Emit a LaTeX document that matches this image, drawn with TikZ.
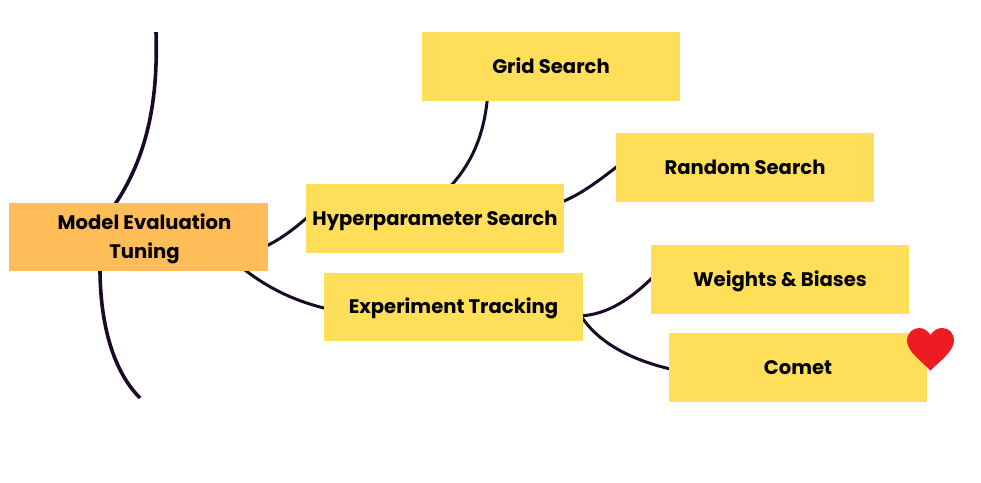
\documentclass[tikz,border=0pt]{standalone}
\usepackage{fontspec}
\setmainfont{Poppins}
\usetikzlibrary{calc,backgrounds}
\definecolor{boxyellow}{HTML}{FFDE59}
\definecolor{boxorange}{HTML}{FFBD59}
\definecolor{linedark}{HTML}{1B0A26}
\definecolor{heartred}{HTML}{ED1C24}
\tikzset{
  basebox/.style={minimum width=258.5pt,minimum height=68.5pt,inner sep=0pt,align=center,
    font=\fontsize{19.6}{29}\selectfont\bfseries,text=black},
  topicbox/.style={basebox,fill=boxyellow,text height=18pt,text depth=4.5pt},
  rootbox/.style={basebox,fill=boxorange},
  branch/.style={draw=linedark,line width=3.6pt},
  thin branch/.style={draw=linedark,line width=3pt},
}
\begin{document}
\begin{tikzpicture}[x=1pt,y=-1pt]
\useasboundingbox (0,0) rectangle (981,482);
\coordinate (upper) at (156,32);
\coordinate (lower) at (140,398);
\node[rootbox] (main) at (138.5,237.2) {\hspace*{12pt}\rule{0pt}{18pt}Model Evaluation\\\hspace*{12pt}Tuning};
\node[topicbox] (hyper) at (435,218.5) {Hyperparameter Search};
\node[topicbox] (track) at (453.5,307) {Experiment Tracking};
\node[topicbox] (grid) at (551,66.5) {Grid Search};
\node[topicbox] (rand) at (745,167.5) {Random Search};
\node[topicbox] (wb) at (780,279.5) {Weights \& Biases};
\node[topicbox] (comet) at (798,367.5) {Comet};
\begin{scope}[on background layer]
\fill[white] (0,0) rectangle (981,482);
\begin{scope}
\clip (0,32) rectangle (981,398);
\draw[branch] (upper) .. controls (158,95) and (150,160) .. ($(main.north west)+(97,14)$);
\draw[branch] ($(main.south west)+(91,-10)$) .. controls (99,320) and (112,370) .. (lower);
\end{scope}
\draw[thin branch] ($(main.east)+(-4,10)$) .. controls (283,238) and (295,228) .. ($(hyper.west)+(4,-3)$);
\draw[thin branch] ($(main.south east)+(-26,-4)$) .. controls (270,290) and (298,302) .. ($(track.west)+(4,2)$);
\draw[thin branch] ($(grid.south west)+(66,-4)$) .. controls (484,135) and (472,165) .. ($(hyper.north)+(10,8)$);
\draw[thin branch] ($(hyper.east)+(-4,-16)$) .. controls (580,195) and (600,180) .. ($(rand.west)+(4,-3)$);
\draw[thin branch] ($(track.east)+(-4,9)$) .. controls (608,315) and (632,298) .. ($(wb.west)+(4,-4)$);
\draw[thin branch] ($(track.east)+(-2,9)$) .. controls (600,345) and (635,361) .. ($(comet.west)+(4,2)$);
\end{scope}
\fill[heartred] (930.5,370.5) .. controls (922,362) and (907,351) .. (907,341)
  .. controls (907,333) and (913,328) .. (919,328)
  .. controls (924,328) and (928,331) .. (930.5,335)
  .. controls (933,331) and (937,328) .. (942,328)
  .. controls (949,328) and (954,333) .. (954,341)
  .. controls (954,351) and (939,362) .. (930.5,370.5) -- cycle;
\end{tikzpicture}
\end{document}
